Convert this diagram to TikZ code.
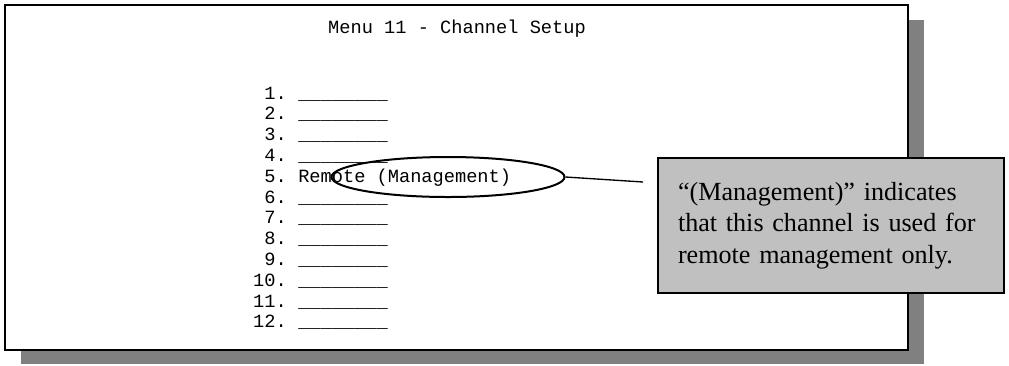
\documentclass[tikz,border=0pt]{standalone}
\usepackage{fontspec}
\setmainfont{Liberation Serif}
\setmonofont{Liberation Mono}
\usetikzlibrary{shapes.geometric}
\definecolor{shadowgray}{HTML}{808080}
\definecolor{notegray}{HTML}{C0C0C0}
\tikzset{
  scr/.style={font=\ttfamily\fontsize{14}{16}\selectfont, inner sep=0pt},
  num/.style={scr, anchor=base east},
  blank/.style={scr, anchor=base west},
  notebox/.style={draw, line width=1.1pt, fill=notegray, inner xsep=15pt,
    minimum width=259.5pt, minimum height=101.25pt, text width=229.5pt,
    align=left, font=\fontsize{19.6}{23.6}\selectfont}
}
\begin{document}
\begin{tikzpicture}[x=.75pt,y=-.75pt]
\useasboundingbox (0,0) rectangle (1009,365);
\fill[shadowgray] (21,20) rectangle (924,364);
\draw[line width=1.5pt,fill=white] (5,5) rectangle (908,350);
\node[scr,anchor=base] (title) at (457,33) {Menu 11 - Channel Setup};
\foreach \i in {1,...,12}
\node[num] (n\i) at (287,{99+(\i-1)*20.8}) {\i.};
\foreach \i in {1,2,3,4,6,7,8,9,10,11,12}
\node[blank] (b\i) at (298,{99+(\i-1)*20.8}) {\_\_\_\_\_\_\_\_};
\node[blank] (b5) at (298,182.2) {Remote (Management)};
%%%%
\node[draw,ellipse,line width=1.5pt,inner sep=0pt,
  minimum width=174.75pt,minimum height=30pt] (ell) at (448,177) {};
\node[notebox] (note) at (831,225.5)
  {“(Management)” indicates\\that this channel is used for\\remote management only.};
\coordinate (tip) at (643,182);
\draw[line width=1pt] (ell.east) -- (tip);
\end{tikzpicture}
\end{document}
